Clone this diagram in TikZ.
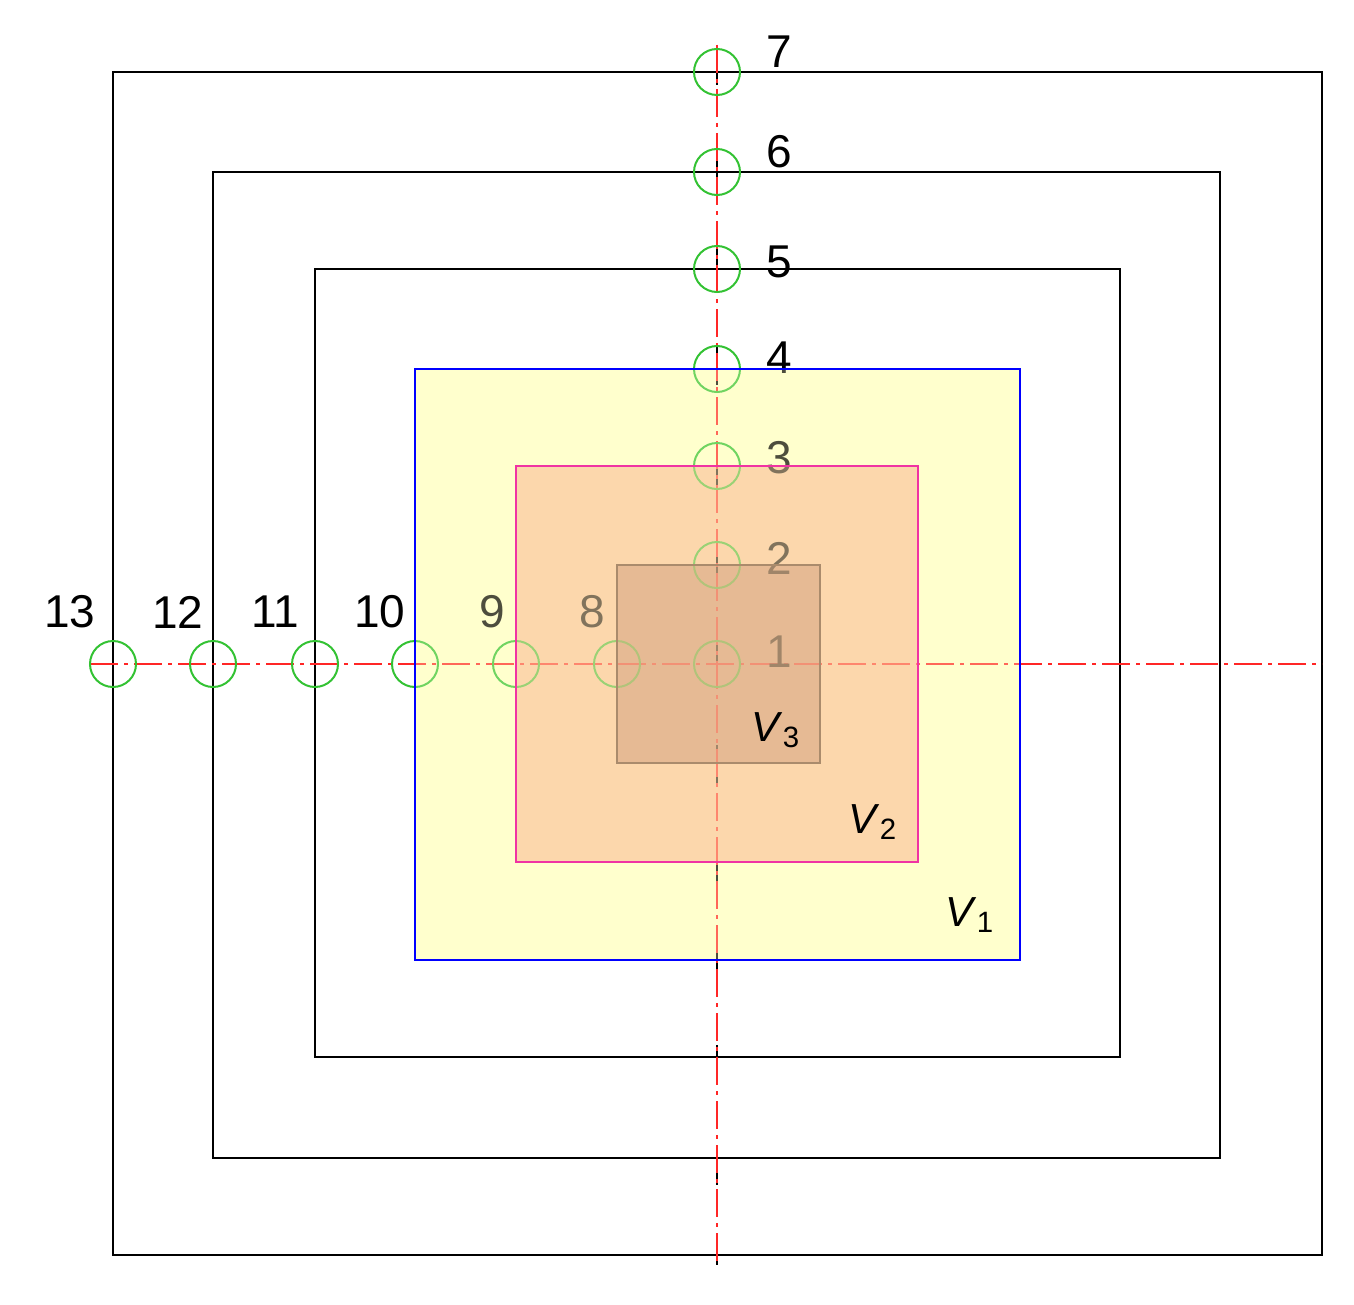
\documentclass[tikz,border=0pt]{standalone}
\usepackage{fontspec}
\setmainfont{Liberation Sans}
\definecolor{vone}{RGB}{255,255,205}
\definecolor{vtwo}{RGB}{252,206,164}
\definecolor{vthree}{RGB}{220,168,132}
\begin{document}
\begin{tikzpicture}[x=0.5pt,y=-0.5pt,
  sq/.style={line width=1.2pt},
  pc/.style={circle,draw=green!70!black!80,line width=1pt,minimum size=23pt,inner sep=0pt},
  num/.style={font=\fontsize{23}{23}\selectfont},
  vl/.style={font=\fontsize{21}{21}\selectfont},
  axis/.style={red!85,line width=0.9pt,dash pattern=on 14pt off 3pt on 2pt off 3pt}]
\useasboundingbox (0,0) rectangle (1354,1305);
\draw[sq] (113,72) rectangle (1322,1255);
\draw[sq] (213,172) rectangle (1220,1158);
\draw[sq] (315,269) rectangle (1120,1057);
\fill[vone] (415,369) rectangle (1020,960);
\fill[vtwo] (516,466) rectangle (918,862);
\fill[vthree] (617,565) rectangle (820,763);
\draw[black,line width=0.7pt,dash pattern=on 20pt off 30pt] (717,45) -- (717,1265);
\draw[axis] (90,664) -- (1322,664);
\draw[axis] (717,45) -- (717,1265);
\foreach \n/\y in {1/664,2/565,3/466,4/369,5/269,6/172,7/72}
  \node[pc] (p\n) at (717,\y) {};
\foreach \n/\x in {8/617,9/516,10/415,11/315,12/213,13/113}
  \node[pc] (p\n) at (\x,664) {};
\foreach \n/\y in {1/652,2/558,3/458,4/358,5/262,6/152,7/52}
  \node[num] (l\n) at (779,\y) {\n};
\foreach \n/\x in {8/592,9/492,10/380,11/275,12/178,13/70}
  \node[num] (l\n) at (\x,612) {\n};
\fill[vone,opacity=0.3] (415,369) rectangle (1020,960);
\fill[vtwo,opacity=0.3] (516,466) rectangle (918,862);
\fill[vthree,opacity=0.35] (617,565) rectangle (820,763);
\draw[blue,line width=1.2pt] (415,369) rectangle (1020,960);
\draw[magenta!80,line width=1.2pt] (516,466) rectangle (918,862);
\draw[brown!70!black!70,line width=1.2pt] (617,565) rectangle (820,763);
\node[vl] (v3) at (776,730) {\textit{V}\textsubscript{3}};
\node[vl] (v2) at (873,822) {\textit{V}\textsubscript{2}};
\node[vl] (v1) at (970,915) {\textit{V}\textsubscript{1}};
\end{tikzpicture}
\end{document}
